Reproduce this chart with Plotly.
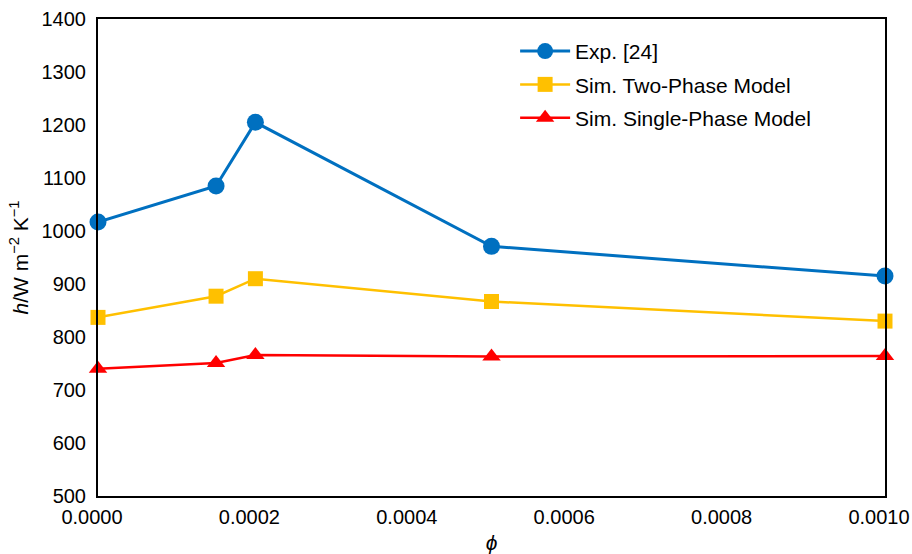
import plotly.graph_objects as go

phi = [0.0, 0.00015, 0.0002, 0.0005, 0.001]
exp_h = [1017, 1085, 1205, 971, 915]
two_phase_h = [837, 877, 910, 867, 830]
single_phase_h = [740, 751, 766, 763, 764]

names = ["Exp. [24]", "Sim. Two-Phase Model", "Sim. Single-Phase Model"]
colors = ["#0070C0", "#FFC000", "#FF0000"]
symbols = ["circle", "square", "triangle-up"]
sizes = [17, 15, 16]
widths = [3, 2.5, 2.5]

fig = go.Figure()
for i, (name, ys, c, s, sz, w) in enumerate(zip(names, [exp_h, two_phase_h, single_phase_h], colors, symbols, sizes, widths)):
    fig.add_trace(go.Scatter(
        x=phi, y=ys, name=name, mode="lines+markers",
        line=dict(color=c, width=w),
        marker=dict(symbol=s, size=sz, color=c),
        cliponaxis=False, legendgroup=f"g{i}",
    ))

font = "Liberation Sans, Arial, sans-serif"
fig.update_layout(
    width=912, height=554,
    margin=dict(l=98, r=27, t=19, b=58),
    plot_bgcolor="white", paper_bgcolor="white",
    font=dict(family=font, size=20, color="black"),
    showlegend=True,
    legend=dict(x=0.53, y=0.975, xanchor="left", yanchor="top",
                font=dict(size=21), bgcolor="rgba(0,0,0,0)",
                itemwidth=50, tracegroupgap=3, traceorder="grouped"),
    xaxis=dict(range=[0, 0.001], tickvals=[0, 0.0002, 0.0004, 0.0006, 0.0008, 0.001],
               ticktext=["0.0000", "0.0002", "0.0004", "0.0006", "0.0008", "0.0010"],
               showgrid=False, zeroline=False, showline=True, linecolor="black",
               linewidth=2, mirror=True, ticks="", ticklabelstandoff=2, automargin=False,
               ticklabelshift=-6, ticklabeloverflow="allow",
               title=dict(text="<i>ϕ</i>", standoff=10, font=dict(size=21))),
    yaxis=dict(range=[500, 1400], dtick=100, showgrid=False, zeroline=False,
               showline=True, linecolor="black", linewidth=2, mirror=True, ticks="",
               ticklabelstandoff=6, automargin=False,
               title=dict(text="<i>h</i>/W m<sup>−2</sup> K<sup>−1</sup>", standoff=7, font=dict(size=21))),
)

fig.write_html("out.html")
